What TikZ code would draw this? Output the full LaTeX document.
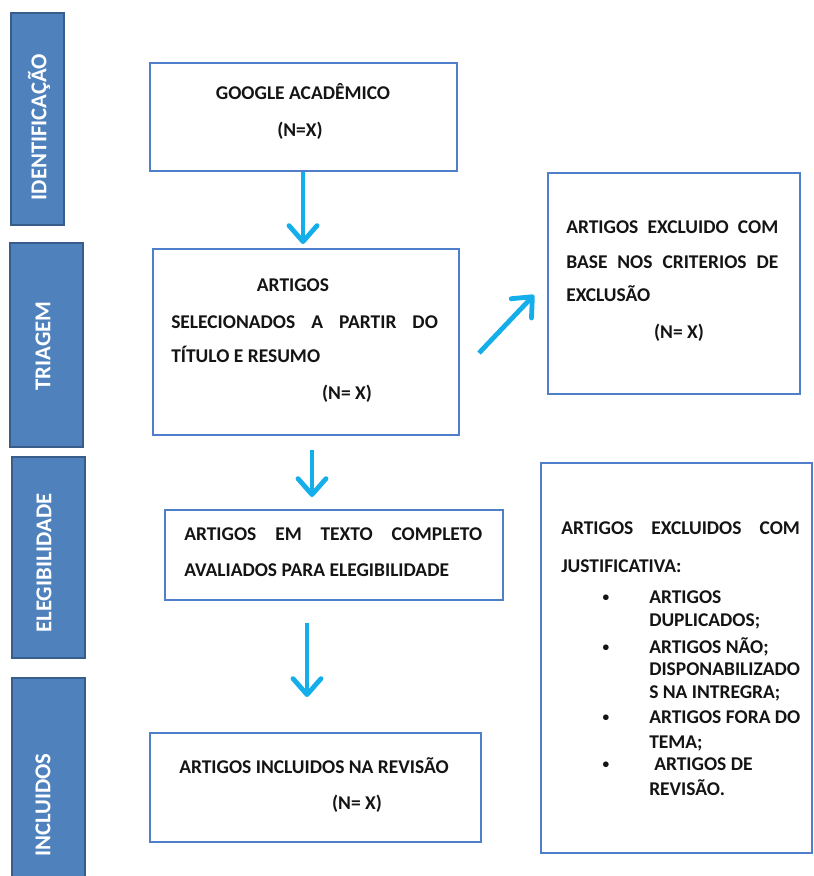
\documentclass[tikz,border=0pt]{standalone}
\usepackage{fontspec}
\setmainfont{Carlito}
\usetikzlibrary{arrows.meta}
\definecolor{barfill}{HTML}{4F81BD}
\definecolor{bardraw}{HTML}{385D8A}
\definecolor{boxdraw}{HTML}{4F7FCB}
\definecolor{arrowc}{HTML}{14AEEA}
\tikzset{
  bar/.style={draw=bardraw, line width=1.5pt, fill=barfill},
  bartext/.style={text=white, font=\fontsize{17}{20}\selectfont\bfseries, rotate=90, inner sep=0pt},
  flowbox/.style={draw=boxdraw, line width=1.3pt},
  txt/.style={font=\fontsize{14.6}{16}\selectfont\bfseries, inner sep=0pt, text=black!92},
  btxt/.style={font=\fontsize{14.6}{16}\selectfont\bfseries, inner sep=0pt, text=black!92, anchor=base west},
  dot/.style={font=\fontsize{10}{12}\selectfont\bfseries, inner sep=0pt, text=black!92, anchor=base},
  flow/.style={draw=arrowc, line width=3.6pt, -{Straight Barb[length=12pt,width=21pt,round]}},
}
\begin{document}
\begin{tikzpicture}[x=0.75pt,y=-0.75pt]
\useasboundingbox (0,0) rectangle (814,876);
\fill[white] (0,0) rectangle (814,876);
% side bars
\draw[bar] (11,13) rectangle (64,225);
\draw[bar] (10,243) rectangle (83,447);
\draw[bar] (12,457) rectangle (85,658);
\draw[bar] (12,678) rectangle (85,884);
\node[bartext] (lid) at (39,127) {IDENTIFICAÇÃO};
\node[bartext] (ltr) at (43,346) {TRIAGEM};
\node[bartext] (lel) at (44,563) {ELEGIBILIDADE};
\node[bartext] (lin) at (43,805) {INCLUIDOS};
% boxes
\draw[flowbox] (150,63) rectangle (457,171);
\draw[flowbox] (153,249) rectangle (459,435);
\draw[flowbox] (548,173) rectangle (800,394);
\draw[flowbox] (165,510) rectangle (503,600);
\draw[flowbox] (541,463) rectangle (812,853);
\draw[flowbox] (150,733) rectangle (481,842);
% texts box G
\node[txt, anchor=base] (g1) at (303,99) {GOOGLE ACADÊMICO};
\node[txt, anchor=base] (g2) at (300,136) {(N=X)};
% box T
\node[txt, anchor=base] (t1) at (293,291) {ARTIGOS};
\node[btxt] (t2) at (171,328) {\makebox[200pt][s]{SELECIONADOS A PARTIR DO}};
\node[btxt] (t3) at (171,362) {TÍTULO E RESUMO};
\node[txt, anchor=base] (t4) at (347,399) {(N= X)};
% box R1
\node[btxt] (r1) at (566,233) {\makebox[159pt][s]{ARTIGOS EXCLUIDO COM}};
\node[btxt] (r2) at (566,268) {\makebox[159pt][s]{BASE NOS CRITERIOS DE}};
\node[btxt] (r3) at (566,301) {EXCLUSÃO};
\node[txt, anchor=base] (r4) at (679,338) {(N= X)};
% box E
\node[btxt] (e1) at (184,540) {\makebox[223.5pt][s]{ARTIGOS EM TEXTO COMPLETO}};
\node[btxt] (e2) at (184,576) {AVALIADOS PARA ELEGIBILIDADE};
% box R2
\node[btxt] (q1) at (561,534) {\makebox[179pt][s]{ARTIGOS EXCLUIDOS COM}};
\node[btxt] (q2) at (561,572) {JUSTIFICATIVA:};
\node[dot] (b1) at (606,601) {•};
\node[dot] (b2) at (606,651) {•};
\node[dot] (b3) at (606,721) {•};
\node[dot] (b4) at (606,768) {•};
\node[btxt] (q3) at (649,603) {ARTIGOS};
\node[btxt] (q4) at (649,626) {DUPLICADOS;};
\node[btxt] (q5) at (649,653) {ARTIGOS NÃO;};
\node[btxt] (q6) at (649,675) {DISPONABILIZADO};
\node[btxt] (q7) at (649,698) {S NA INTREGRA;};
\node[btxt] (q8) at (649,723) {ARTIGOS FORA DO};
\node[btxt] (q9) at (649,748) {TEMA;};
\node[btxt] (q10) at (654,770) {ARTIGOS DE};
\node[btxt] (q11) at (649,795) {REVISÃO.};
% box I
\node[btxt] (i1) at (179,773) {ARTIGOS INCLUIDOS NA REVISÃO};
\node[txt, anchor=base] (i2) at (357,809) {(N= X)};
% arrows
\coordinate (a1s) at (303,172); \coordinate (a1e) at (303,244);
\coordinate (a2s) at (312,450); \coordinate (a2e) at (312,497);
\coordinate (a3s) at (307,623); \coordinate (a3e) at (307,697);
\coordinate (a4s) at (479,353); \coordinate (a4e) at (534,295);
\draw[flow] (a1s) -- (a1e);
\draw[flow] (a2s) -- (a2e);
\draw[flow] (a3s) -- (a3e);
\draw[flow] (a4s) -- (a4e);
\end{tikzpicture}
\end{document}
